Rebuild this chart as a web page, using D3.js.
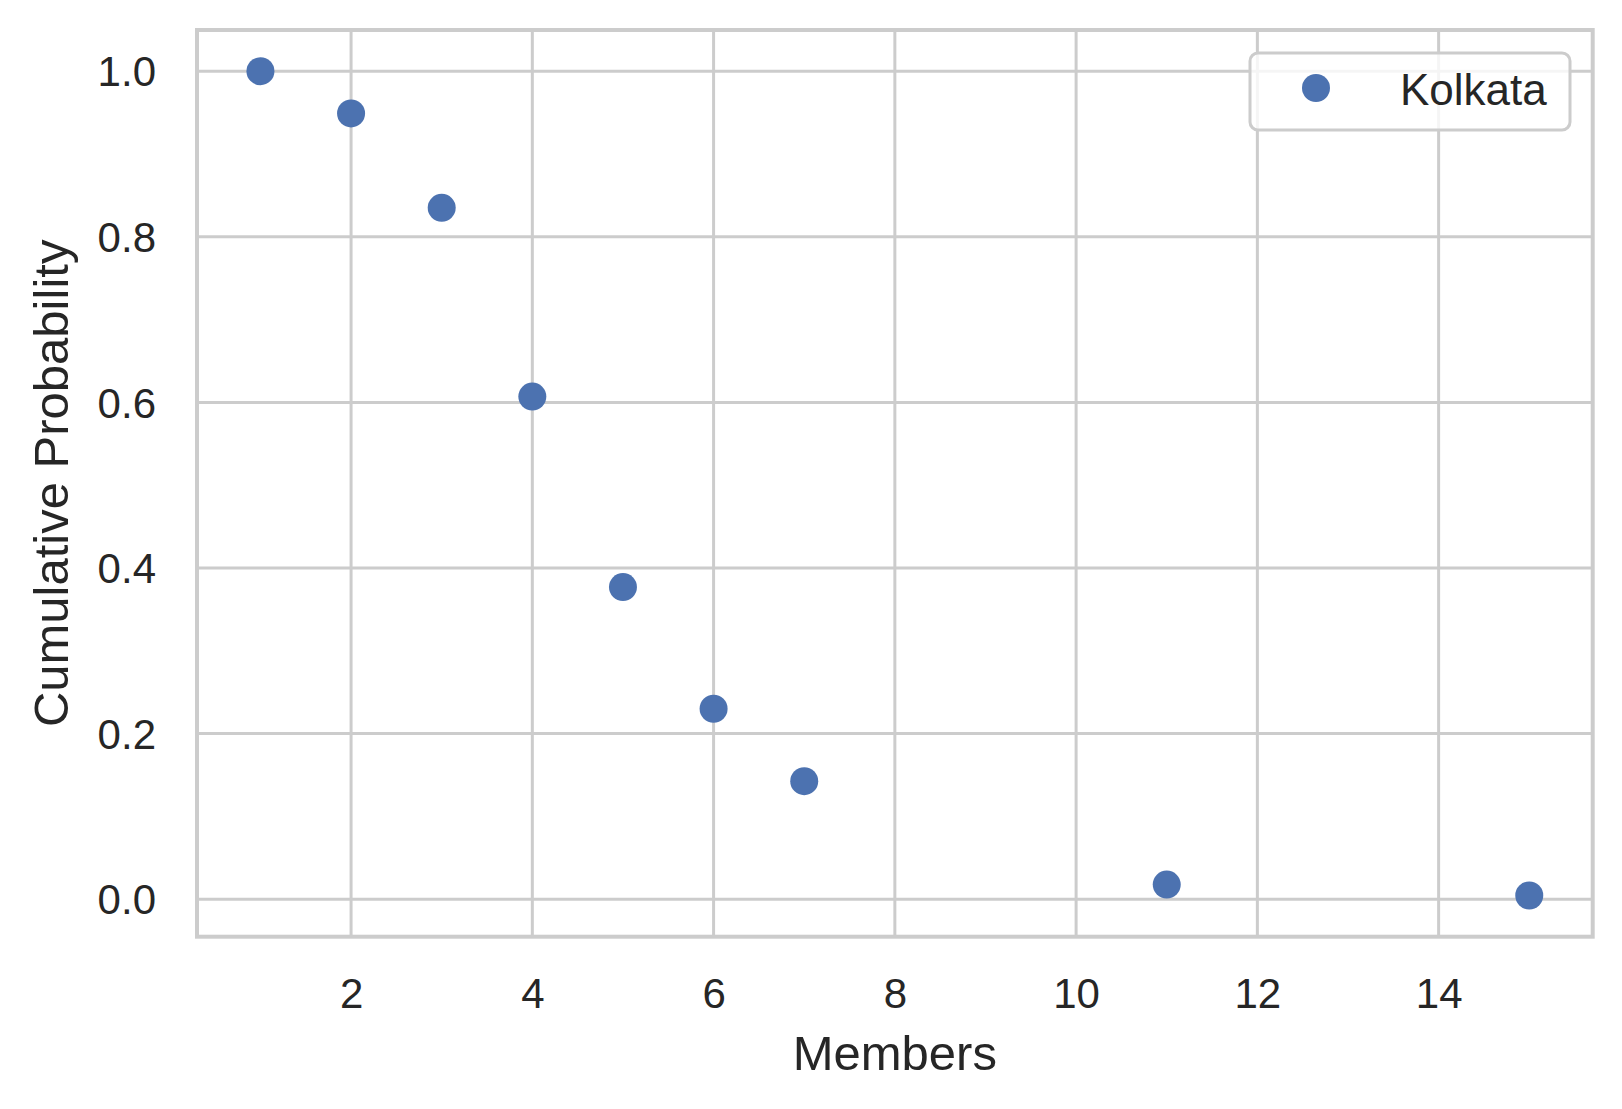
<!DOCTYPE html>
<html>
<head>
<meta charset="utf-8">
<script src="https://cdn.jsdelivr.net/npm/d3@7"></script>
<style>
  body { margin: 0; background: #fff; }
  text { font-family: "Liberation Sans", Arial, sans-serif; fill: #262626; }
</style>
</head>
<body>
<div id="chart"></div>
<script>
// data
var members = [1, 2, 3, 4, 5, 6, 7, 11, 15];
var cumProb = [1.0, 0.949, 0.835, 0.607, 0.377, 0.230, 0.1425, 0.0177, 0.0045];
var xTicks = [2, 4, 6, 8, 10, 12, 14];
var yTicks = [0.0, 0.2, 0.4, 0.6, 0.8, 1.0];
var seriesName = "Kolkata";

function init() {
    var w = 1622, h = 1109;
    var pLeft = 197, pRight = 1592.7, pTop = 30, pBottom = 936.7;

    var svg = d3.select("#chart").append("svg")
        .attr("width", w)
        .attr("height", h);

    // matplotlib style 5% margins
    var xMin = d3.min(members), xMax = d3.max(members);
    var yMin = d3.min(cumProb), yMax = d3.max(cumProb);
    var xPad = (xMax - xMin) * 0.05, yPad = (yMax - yMin) * 0.05;

    var x = d3.scaleLinear().domain([xMin - xPad, xMax + xPad]).range([pLeft, pRight]);
    var y = d3.scaleLinear().domain([yMin - yPad, yMax + yPad]).range([pBottom, pTop]);

    // grid
    svg.append("g").selectAll("line")
        .data(xTicks).enter().append("line")
        .attr("x1", function(d) { return x(d); })
        .attr("x2", function(d) { return x(d); })
        .attr("y1", pTop).attr("y2", pBottom)
        .attr("stroke", "#cccccc").attr("stroke-width", 3);

    svg.append("g").selectAll("line")
        .data(yTicks).enter().append("line")
        .attr("y1", function(d) { return y(d); })
        .attr("y2", function(d) { return y(d); })
        .attr("x1", pLeft).attr("x2", pRight)
        .attr("stroke", "#cccccc").attr("stroke-width", 3);

    // axes, used for the tick labels only
    var xAxis = d3.axisBottom(x).tickValues(xTicks).tickSize(0).tickPadding(0).tickFormat(d3.format("d"));
    var gx = svg.append("g").attr("transform", "translate(0," + pBottom + ")").call(xAxis);
    gx.select(".domain").remove();
    gx.attr("font-family", null).attr("font-size", null);
    gx.selectAll("text")
        .attr("dy", null)
        .attr("y", 71)
        .style("font-size", "42px");

    var yAxis = d3.axisLeft(y).tickValues(yTicks).tickSize(0).tickPadding(0).tickFormat(d3.format(".1f"));
    var gy = svg.append("g").attr("transform", "translate(" + pLeft + ",0)").call(yAxis);
    gy.select(".domain").remove();
    gy.attr("font-family", null).attr("font-size", null);
    gy.selectAll("text")
        .attr("x", -41)
        .attr("dy", "0.35em")
        .style("font-size", "42px");

    // spines
    svg.append("rect")
        .attr("x", pLeft).attr("y", pTop)
        .attr("width", pRight - pLeft).attr("height", pBottom - pTop)
        .attr("fill", "none")
        .attr("stroke", "#cccccc").attr("stroke-width", 4);

    // points
    svg.append("g").selectAll("circle")
        .data(members).enter().append("circle")
        .attr("cx", function(d) { return x(d); })
        .attr("cy", function(d, i) { return y(cumProb[i]); })
        .attr("r", 14)
        .attr("fill", "#4c72b0");

    // axis labels
    svg.append("text")
        .attr("x", (pLeft + pRight) / 2)
        .attr("y", 1070)
        .attr("text-anchor", "middle")
        .style("font-size", "49px")
        .text("Members");

    svg.append("text")
        .attr("transform", "translate(68," + (pTop + pBottom) / 2 + ") rotate(-90)")
        .attr("text-anchor", "middle")
        .style("font-size", "49px")
        .text("Cumulative Probability");

    // legend
    var lg = svg.append("g");
    lg.append("rect")
        .attr("x", 1250).attr("y", 53)
        .attr("width", 320).attr("height", 77)
        .attr("rx", 8).attr("ry", 8)
        .attr("fill", "#ffffff").attr("fill-opacity", 0.8)
        .attr("stroke", "#cccccc").attr("stroke-width", 3);
    lg.append("circle")
        .attr("cx", 1316).attr("cy", 88)
        .attr("r", 14)
        .attr("fill", "#4c72b0");
    lg.append("text")
        .attr("x", 1400).attr("y", 105)
        .style("font-size", "44px")
        .text(seriesName);
}
window.onload = init;
</script>
</body>
</html>
